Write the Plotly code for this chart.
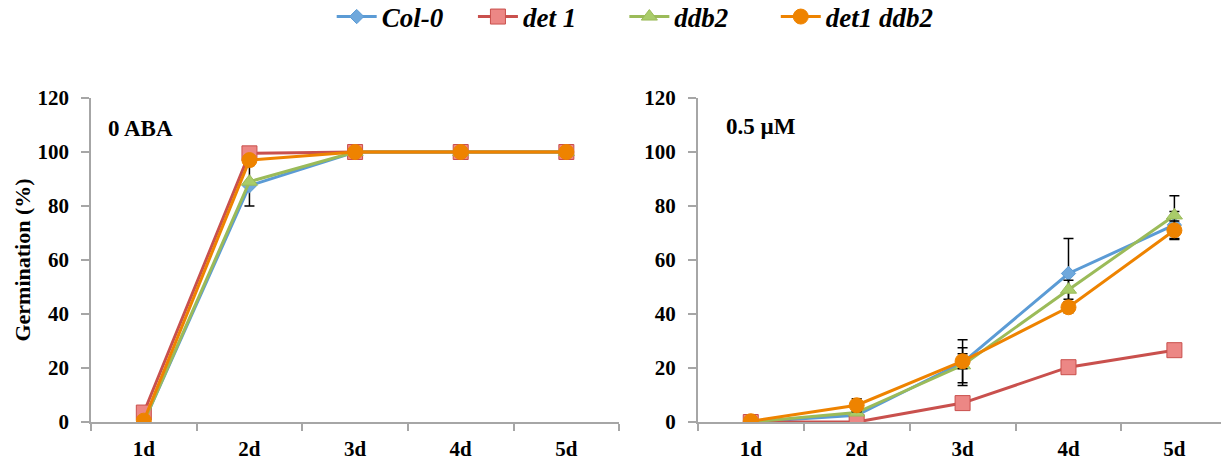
import plotly.graph_objects as go

days = ["1d", "2d", "3d", "4d", "5d"]
genotypes = ["Col-0", "det 1", "ddb2", "det1 ddb2"]

# Germination (%) without ABA
aba0_col0 = [0, 87.5, 100, 100, 100]
aba0_det1 = [3.5, 99.5, 100, 100, 100]
aba0_ddb2 = [0, 89, 100, 100, 100]
aba0_det1ddb2 = [0.5, 97, 100, 100, 100]
aba0_col0_err = [0, 7.5, 0, 0, 0]
aba0_det1_err = [0, 0, 0, 0, 0]
aba0_ddb2_err = [0, 0, 0, 0, 0]
aba0_det1ddb2_err = [0, 0, 0, 0, 0]

# Germination (%) on 0.5 µM ABA
aba05_col0 = [0, 2.5, 22, 55, 73]
aba05_det1 = [0, 0, 7, 20.3, 26.6]
aba05_ddb2 = [0, 3.5, 21, 49, 76.5]
aba05_det1ddb2 = [0.3, 6.2, 22.5, 42.5, 71]
aba05_col0_err = [0, 0, 8.5, 13, 5]
aba05_det1_err = [0, 0, 0, 0, 0]
aba05_ddb2_err = [0, 0, 6.5, 3.5, 7.3]
aba05_det1ddb2_err = [0, 2.4, 2.8, 2, 3.4]

y_ticks = [0, 20, 40, 60, 80, 100, 120]

line_colors = ["#5B9BD5", "#C9504D", "#9BBB59", "#EE8300"]
fill_colors = ["#6FA8DC", "#EC8785", "#A9CC6A", "#EE8300"]
symbols = ["diamond", "square", "triangle-up", "circle"]
sizes = [11, 15, 14, 15]

# left edge (paper fraction) of each legend entry across the top
legend_x = [0.213, 0.338, 0.472, 0.606]
legend_ids = ["legend", "legend2", "legend3", "legend4"]

FONT = "Liberation Serif"

panels = [
    ([aba0_col0, aba0_det1, aba0_ddb2, aba0_det1ddb2],
     [aba0_col0_err, aba0_det1_err, aba0_ddb2_err, aba0_det1ddb2_err]),
    ([aba05_col0, aba05_det1, aba05_ddb2, aba05_det1ddb2],
     [aba05_col0_err, aba05_det1_err, aba05_ddb2_err, aba05_det1ddb2_err]),
]

fig = go.Figure()
for p, (series, errors) in enumerate(panels):
    xa = "x" if p == 0 else "x2"
    ya = "y" if p == 0 else "y2"
    for i, name in enumerate(genotypes):
        fig.add_trace(go.Scatter(
            x=days, y=series[i], name=name,
            mode="lines+markers", xaxis=xa, yaxis=ya,
            showlegend=(p == 0), legendgroup=name, legend=legend_ids[i],
            line=dict(color=line_colors[i], width=3),
            marker=dict(symbol=symbols[i], size=sizes[i], color=fill_colors[i],
                        line=dict(color=line_colors[i], width=1)),
            error_y=dict(type="data", array=errors[i], visible=True,
                         color="black", thickness=1.5, width=5),
        ))

axis_line = "#A6A6A6"
tick_font = dict(family=FONT, size=21, color="black", weight="bold")
common_x = dict(type="category", showgrid=False, showline=True, linecolor=axis_line,
                linewidth=1.5, ticks="outside", tickson="boundaries", ticklen=7,
                tickcolor=axis_line, tickwidth=1.5, zeroline=False,
                ticklabelstandoff=7, tickfont=tick_font)
common_y = dict(range=[0, 120], tickvals=y_ticks, showgrid=False, showline=True,
                linecolor=axis_line, linewidth=1.5, ticks="outside", ticklen=8,
                tickcolor=axis_line, tickwidth=1.5, zeroline=False,
                ticklabelstandoff=8, tickfont=tick_font)

legend_style = dict(orientation="h", xanchor="left", y=1.25, yanchor="middle",
                    font=dict(family=FONT, size=27, color="black",
                              weight="bold", style="italic"),
                    itemwidth=40, bgcolor="rgba(0,0,0,0)")

fig.update_layout(
    width=1221, height=465,
    margin=dict(l=91, r=0, t=98, b=43, autoexpand=False),
    paper_bgcolor="white", plot_bgcolor="white",
    xaxis=dict(domain=[0, 0.4674], range=[-0.5, 4.5], anchor="y", **common_x),
    xaxis2=dict(domain=[0.537, 1], range=[-0.5, 4.44], anchor="y2", **common_x),
    yaxis=dict(domain=[0, 1], anchor="x",
               title=dict(text="Germination (%)", standoff=1,
                          font=dict(family=FONT, size=22, color="black", weight="bold")),
               **common_y),
    yaxis2=dict(domain=[0, 1], anchor="x2", **common_y),
    annotations=[
        dict(text="0 ABA", xref="x domain", yref="y domain", x=0.028, y=0.907,
             xanchor="left", yanchor="middle", showarrow=False,
             font=dict(family=FONT, size=23, color="black", weight="bold")),
        dict(text="0.5 µM", xref="x2 domain", yref="y2 domain", x=0.05, y=0.913,
             xanchor="left", yanchor="middle", showarrow=False,
             font=dict(family=FONT, size=23, color="black", weight="bold")),
    ],
)
for lid, lx in zip(legend_ids, legend_x):
    fig.update_layout({lid: dict(x=lx, **legend_style)})

fig.write_html("out.html")
